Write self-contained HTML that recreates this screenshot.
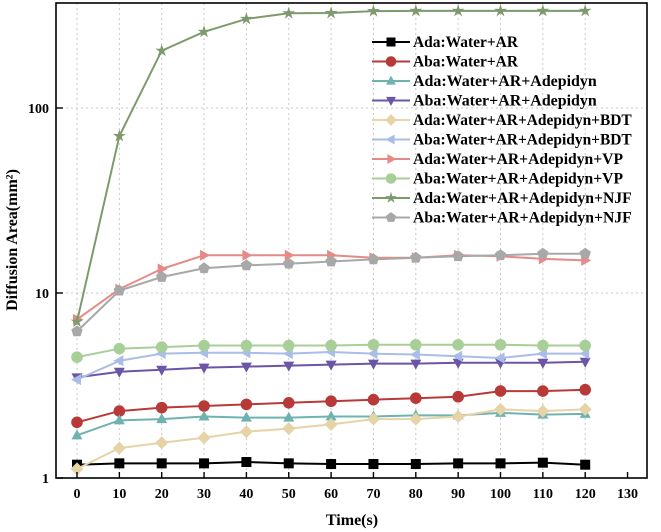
<!DOCTYPE html>
<html><head><meta charset="utf-8">
<style>
html,body{margin:0;padding:0;background:#fff;}
svg{display:block;font-family:"Liberation Serif",serif;font-weight:bold;}
</style></head>
<body>
<svg id="chart" width="661" height="532" viewBox="0 0 661 532" xmlns="http://www.w3.org/2000/svg">
<g id="grid"></g>
<g id="series"></g>
<rect x="56" y="3" width="591" height="475" fill="none" stroke="#000" stroke-width="1.6"/>
<g id="axes"></g>
<text x="352" y="525" text-anchor="middle" font-size="16">Time(s)</text>
<text transform="translate(17,240) rotate(-90)" text-anchor="middle" font-size="16">Diffusion Area(mm²)</text>
<g id="legend"></g>
</svg>
<script>
const times=[0,10,20,30,40,50,60,70,80,90,100,110,120];
const xTicks=[0,10,20,30,40,50,60,70,80,90,100,110,120,130];
const yTicks=[1,10,100];
const labels=["Ada:Water+AR","Aba:Water+AR","Ada:Water+AR+Adepidyn","Aba:Water+AR+Adepidyn","Ada:Water+AR+Adepidyn+BDT","Aba:Water+AR+Adepidyn+BDT","Ada:Water+AR+Adepidyn+VP","Aba:Water+AR+Adepidyn+VP","Ada:Water+AR+Adepidyn+NJF","Aba:Water+AR+Adepidyn+NJF"];
const colors=["#000000","#b83a38","#6fb3b0","#6a55a6","#e6d3a6","#a9bde6","#e58a86","#a8cf98","#7e9a6c","#a8a8a8"];
const markers=["square","circle","tri-up","tri-down","diamond","tri-left","tri-right","circle","star","pentagon"];
const s0=[1.18,1.2,1.2,1.2,1.22,1.2,1.19,1.19,1.19,1.2,1.2,1.21,1.18];
const s1=[2.0,2.3,2.4,2.45,2.5,2.55,2.6,2.65,2.7,2.75,2.95,2.95,3.0];
const s2=[1.7,2.05,2.08,2.15,2.12,2.12,2.15,2.15,2.18,2.18,2.25,2.2,2.22];
const s3=[3.5,3.75,3.85,3.95,4.0,4.05,4.1,4.15,4.15,4.2,4.2,4.2,4.25];
const s4=[1.12,1.45,1.55,1.65,1.78,1.85,1.95,2.08,2.08,2.15,2.35,2.3,2.35];
const s5=[3.4,4.3,4.7,4.75,4.75,4.7,4.8,4.7,4.65,4.55,4.45,4.7,4.7];
const s6=[7.2,10.5,13.5,16,16,16,16,15.5,15.5,16,15.8,15.3,15];
const s7=[4.5,5.0,5.1,5.2,5.2,5.2,5.2,5.25,5.25,5.25,5.25,5.2,5.2];
const s8=[7.0,70.5,204,258,303,325,326,334,335,335,335,335,335];
const s9=[6.2,10.3,12.2,13.6,14.1,14.4,14.8,15.2,15.5,15.8,16,16.3,16.3];
const seriesData=[s0,s1,s2,s3,s4,s5,s6,s7,s8,s9];

const NS="http://www.w3.org/2000/svg";
function xs(t){return 77+t*4.235;}
function ys(v){return 478-Math.log10(v)*185;}
function mk(tag,attrs,parent){const e=document.createElementNS(NS,tag);for(const k in attrs)e.setAttribute(k,attrs[k]);parent.appendChild(e);return e;}
function marker(type,x,y,r,c,parent){
  let e;
  if(type==="square") e=mk("rect",{x:x-r,y:y-r,width:2*r,height:2*r,fill:c},parent);
  else if(type==="circle") e=mk("circle",{cx:x,cy:y,r:r+0.8,fill:c},parent);
  else {
    let pts=[];
    if(type==="tri-up") pts=[[0,-1.2],[1.1,0.8],[-1.1,0.8]];
    else if(type==="tri-down") pts=[[0,1.2],[1.1,-0.8],[-1.1,-0.8]];
    else if(type==="tri-left") pts=[[-1.2,0],[0.8,-1.1],[0.8,1.1]];
    else if(type==="tri-right") pts=[[1.2,0],[-0.8,-1.1],[-0.8,1.1]];
    else if(type==="diamond") pts=[[0,-1.3],[1.3,0],[0,1.3],[-1.3,0]];
    else if(type==="pentagon"){for(let i=0;i<5;i++){const a=-Math.PI/2+i*2*Math.PI/5;pts.push([1.2*Math.cos(a),1.2*Math.sin(a)]);}}
    else if(type==="star"){for(let i=0;i<10;i++){const a=-Math.PI/2+i*Math.PI/5;const rr=i%2?0.5:1.35;pts.push([rr*Math.cos(a),rr*Math.sin(a)]);}}
    e=mk("polygon",{points:pts.map(p=>(x+p[0]*r)+","+(y+p[1]*r)).join(" "),fill:c},parent);
  }
  return e;
}
const grid=document.getElementById("grid"),axes=document.getElementById("axes"),sg=document.getElementById("series"),lg=document.getElementById("legend");
xTicks.forEach(t=>{
  const x=xs(t);
  if(t<=120){const g=mk("line",{x1:x,y1:3,x2:x,y2:478,stroke:"#c8c8c8","stroke-dasharray":"2,3","stroke-width":1},grid);
  
  }
  const tk=mk("line",{x1:x,y1:478,x2:x,y2:472,stroke:"#000","stroke-width":1.4},axes);
  
  
  const l=mk("text",{x:x,y:498,"text-anchor":"middle","font-size":14},axes);l.textContent=t;
  
  
});
yTicks.forEach(v=>{
  const y=ys(v);
  if(v>1){const g=mk("line",{x1:56,y1:y,x2:647,y2:y,stroke:"#c8c8c8","stroke-dasharray":"2,3","stroke-width":1},grid);
  
  }
  const tk=mk("line",{x1:56,y1:y,x2:63,y2:y,stroke:"#000","stroke-width":1.4},axes);
  
  
  const l=mk("text",{x:49,y:y+5,"text-anchor":"end","font-size":14},axes);l.textContent=v;
  
  
});
seriesData.forEach((d,i)=>{
  const g=mk("g",{},sg);
  
  
  const pl=mk("polyline",{points:d.map((v,j)=>xs(times[j])+","+ys(v)).join(" "),fill:"none",stroke:colors[i],"stroke-width":2},g);
  
  
  d.forEach((v,j)=>{const m=marker(markers[i],xs(times[j]),ys(v),5,colors[i],g);
    
    });
});
labels.forEach((lab,i)=>{
  const y=42+i*19.5;
  const g=mk("g",{},lg);
  
  
  mk("line",{x1:372,y1:y,x2:410,y2:y,stroke:colors[i],"stroke-width":2},g);
  marker(markers[i],391,y,4.5,colors[i],g);
  const t=mk("text",{x:413,y:y+5,"font-size":15.5,textLength:lab.length*8.75,lengthAdjust:"spacingAndGlyphs"},g);t.textContent=lab;
});
</script>
</body></html>
